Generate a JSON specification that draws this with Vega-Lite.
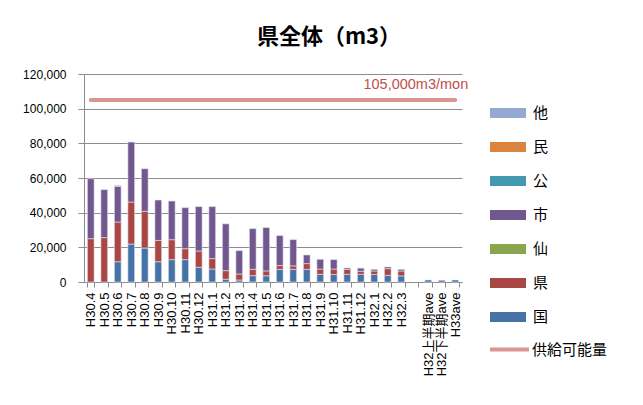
{
  "$schema": "https://vega.github.io/schema/vega-lite/v6.json",
  "width": 378,
  "height": 208,
  "autosize": {"type": "none"},
  "padding": {"left": 84, "top": 74, "right": 181, "bottom": 123},
  "background": "white",
  "title": {
    "text": "県全体（m3）",
    "font": "Noto Sans CJK JP",
    "fontSize": 22,
    "fontWeight": "bold",
    "color": "#000000",
    "anchor": "middle",
    "frame": "group",
    "dx": 56,
    "offset": 19
  },
  "config": {
    "view": {"stroke": null},
    "axis": {"labelFont": "Liberation Sans", "labelColor": "#000000"}
  },
  "datasets": {
    "bars": [
      {"m": "H30.4", "t": "県", "k": 2, "v": 25000},
      {"m": "H30.4", "t": "市", "k": 4, "v": 34600},
      {"m": "H30.5", "t": "県", "k": 2, "v": 25600},
      {"m": "H30.5", "t": "市", "k": 4, "v": 27700},
      {"m": "H30.6", "t": "国", "k": 1, "v": 11700},
      {"m": "H30.6", "t": "県", "k": 2, "v": 22900},
      {"m": "H30.6", "t": "市", "k": 4, "v": 20600},
      {"m": "H30.6", "t": "民", "k": 6, "v": 500},
      {"m": "H30.7", "t": "国", "k": 1, "v": 21900},
      {"m": "H30.7", "t": "県", "k": 2, "v": 24250},
      {"m": "H30.7", "t": "市", "k": 4, "v": 34600},
      {"m": "H30.8", "t": "国", "k": 1, "v": 19600},
      {"m": "H30.8", "t": "県", "k": 2, "v": 21150},
      {"m": "H30.8", "t": "市", "k": 4, "v": 24600},
      {"m": "H30.9", "t": "国", "k": 1, "v": 11700},
      {"m": "H30.9", "t": "県", "k": 2, "v": 12300},
      {"m": "H30.9", "t": "市", "k": 4, "v": 23300},
      {"m": "H30.10", "t": "国", "k": 1, "v": 12900},
      {"m": "H30.10", "t": "県", "k": 2, "v": 11500},
      {"m": "H30.10", "t": "市", "k": 4, "v": 22300},
      {"m": "H30.11", "t": "国", "k": 1, "v": 12900},
      {"m": "H30.11", "t": "県", "k": 2, "v": 6300},
      {"m": "H30.11", "t": "市", "k": 4, "v": 23700},
      {"m": "H30.12", "t": "国", "k": 1, "v": 8500},
      {"m": "H30.12", "t": "県", "k": 2, "v": 9400},
      {"m": "H30.12", "t": "市", "k": 4, "v": 25600},
      {"m": "H31.1", "t": "国", "k": 1, "v": 7500},
      {"m": "H31.1", "t": "県", "k": 2, "v": 6000},
      {"m": "H31.1", "t": "市", "k": 4, "v": 30000},
      {"m": "H31.2", "t": "国", "k": 1, "v": 1600},
      {"m": "H31.2", "t": "県", "k": 2, "v": 4950},
      {"m": "H31.2", "t": "市", "k": 4, "v": 27000},
      {"m": "H31.3", "t": "国", "k": 1, "v": 1150},
      {"m": "H31.3", "t": "県", "k": 2, "v": 3450},
      {"m": "H31.3", "t": "市", "k": 4, "v": 13500},
      {"m": "H31.4", "t": "国", "k": 1, "v": 3650},
      {"m": "H31.4", "t": "県", "k": 2, "v": 3650},
      {"m": "H31.4", "t": "市", "k": 4, "v": 23500},
      {"m": "H31.5", "t": "国", "k": 1, "v": 3600},
      {"m": "H31.5", "t": "県", "k": 2, "v": 2800},
      {"m": "H31.5", "t": "市", "k": 4, "v": 25000},
      {"m": "H31.6", "t": "国", "k": 1, "v": 7300},
      {"m": "H31.6", "t": "県", "k": 2, "v": 2150},
      {"m": "H31.6", "t": "市", "k": 4, "v": 17350},
      {"m": "H31.7", "t": "国", "k": 1, "v": 7300},
      {"m": "H31.7", "t": "県", "k": 2, "v": 2000},
      {"m": "H31.7", "t": "市", "k": 4, "v": 15150},
      {"m": "H31.8", "t": "国", "k": 1, "v": 7300},
      {"m": "H31.8", "t": "県", "k": 2, "v": 3300},
      {"m": "H31.8", "t": "市", "k": 4, "v": 5000},
      {"m": "H31.9", "t": "国", "k": 1, "v": 4450},
      {"m": "H31.9", "t": "県", "k": 2, "v": 3050},
      {"m": "H31.9", "t": "市", "k": 4, "v": 5600},
      {"m": "H31.10", "t": "国", "k": 1, "v": 4300},
      {"m": "H31.10", "t": "県", "k": 2, "v": 3200},
      {"m": "H31.10", "t": "市", "k": 4, "v": 5400},
      {"m": "H31.11", "t": "国", "k": 1, "v": 4450},
      {"m": "H31.11", "t": "県", "k": 2, "v": 2850},
      {"m": "H31.11", "t": "市", "k": 4, "v": 800},
      {"m": "H31.12", "t": "国", "k": 1, "v": 4450},
      {"m": "H31.12", "t": "県", "k": 2, "v": 1750},
      {"m": "H31.12", "t": "市", "k": 4, "v": 1800},
      {"m": "H32.1", "t": "国", "k": 1, "v": 4300},
      {"m": "H32.1", "t": "県", "k": 2, "v": 2050},
      {"m": "H32.1", "t": "市", "k": 4, "v": 950},
      {"m": "H32.2", "t": "国", "k": 1, "v": 3850},
      {"m": "H32.2", "t": "県", "k": 2, "v": 3850},
      {"m": "H32.2", "t": "市", "k": 4, "v": 1000},
      {"m": "H32.3", "t": "国", "k": 1, "v": 3500},
      {"m": "H32.3", "t": "県", "k": 2, "v": 2850},
      {"m": "H32.3", "t": "市", "k": 4, "v": 950},
      {"m": "H32上半期ave", "t": "国", "k": 1, "v": 1150},
      {"m": "H32下半期ave", "t": "国", "k": 1, "v": 1000},
      {"m": "H33ave", "t": "国", "k": 1, "v": 1150}
    ],
    "supply": [
      {"m": "H30.4", "s": "供給可能量", "v": 105000, "label": ""},
      {"m": "H33ave", "s": "供給可能量", "v": 105000, "label": "105,000m3/mon"}
    ]
  },
  "encoding": {
    "x": {
      "field": "m",
      "type": "ordinal",
      "sort": null,
      "scale": {
        "domain": ["H30.4", "H30.5", "H30.6", "H30.7", "H30.8", "H30.9", "H30.10", "H30.11", "H30.12", "H31.1", "H31.2", "H31.3", "H31.4", "H31.5", "H31.6", "H31.7", "H31.8", "H31.9", "H31.10", "H31.11", "H31.12", "H32.1", "H32.2", "H32.3", " ", "H32上半期ave", "H32下半期ave", "H33ave"],
        "paddingInner": 0.5,
        "paddingOuter": 0.25
      },
      "axis": {
        "title": null,
        "labelAngle": -90,
        "labelFontSize": 13,
        "labelFont": "Liberation Sans, Noto Sans CJK JP",
        "labelPadding": 5,
        "tickBand": "extent",
        "tickSize": 5,
        "tickColor": "#8c8c8c",
        "domainColor": "#8c8c8c",
        "grid": false
      }
    },
    "y": {
      "field": "v",
      "type": "quantitative",
      "scale": {"domain": [0, 120000]},
      "axis": {
        "title": null,
        "values": [0, 20000, 40000, 60000, 80000, 100000, 120000],
        "format": ",.0f",
        "labelFontSize": 12,
        "labelPadding": 12,
        "tickSize": 6,
        "tickColor": "#8c8c8c",
        "domainColor": "#8c8c8c",
        "gridColor": "#8c8c8c",
        "grid": true
      }
    }
  },
  "layer": [
    {
      "data": {"name": "bars"},
      "mark": {"type": "bar", "stroke": "#e8e4f0", "strokeWidth": 0.6},
      "encoding": {
        "y": {"field": "v", "type": "quantitative", "stack": "zero"},
        "order": {"field": "k", "type": "quantitative", "sort": "ascending"},
        "color": {
          "field": "t",
          "type": "nominal",
          "scale": {
            "domain": ["他", "民", "公", "市", "仙", "県", "国"],
            "range": ["#93A9CF", "#DB843D", "#4198AF", "#71588F", "#89A54E", "#AA4643", "#4572A7"]
          },
          "legend": {
            "title": null,
            "orient": "none",
            "legendX": 406,
            "legendY": 21,
            "symbolType": "M-1,-0.28H1V0.28H-1Z",
            "symbolSize": 1296,
            "symbolStrokeWidth": 0,
            "labelFont": "Noto Sans CJK JP",
            "labelFontSize": 15,
            "labelColor": "#000000",
            "labelOffset": 7,
            "rowPadding": 8,
            "padding": 0
          }
        }
      }
    },
    {
      "data": {"name": "supply"},
      "mark": {"type": "line", "strokeWidth": 4, "strokeCap": "round"},
      "encoding": {
        "y": {"field": "v", "type": "quantitative", "stack": null},
        "stroke": {
          "field": "s",
          "type": "nominal",
          "scale": {"range": ["#D99694"]},
          "legend": {
            "title": null,
            "orient": "none",
            "legendX": 404,
            "legendY": 254,
            "symbolType": "stroke",
            "symbolSize": 1521,
            "symbolStrokeWidth": 4,
            "labelFont": "Noto Sans CJK JP",
            "labelFontSize": 15,
            "labelColor": "#000000",
            "labelOffset": 1,
            "padding": 0
          }
        }
      }
    },
    {
      "data": {"name": "supply"},
      "mark": {"type": "text", "align": "right", "baseline": "middle", "dx": 13, "dy": -15, "font": "Liberation Sans", "fontSize": 14.5, "color": "#C0504D"},
      "encoding": {
        "y": {"field": "v", "type": "quantitative", "stack": null},
        "text": {"field": "label"}
      }
    }
  ]
}
